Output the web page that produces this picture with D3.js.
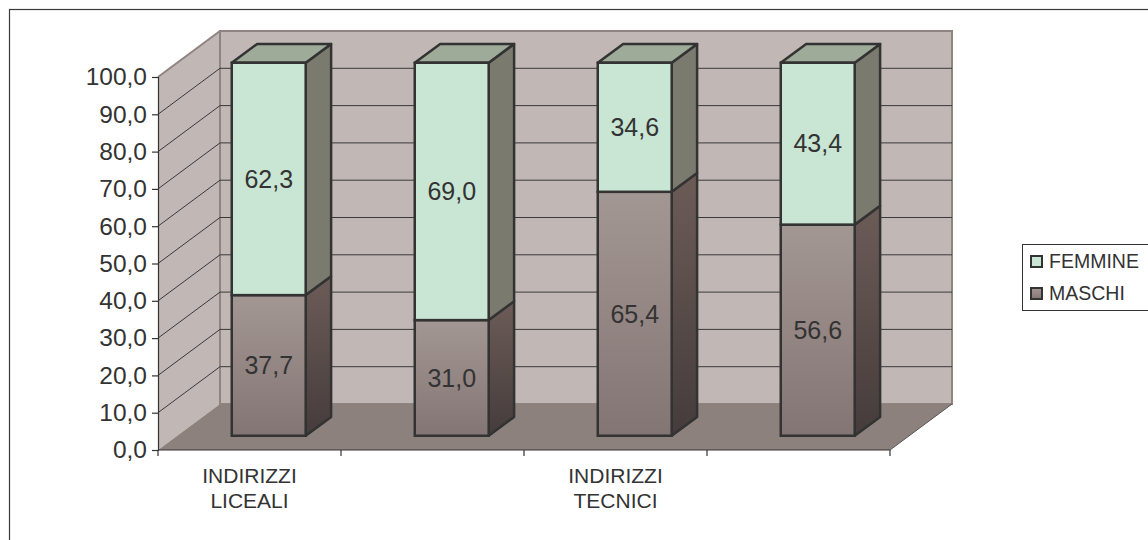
<!DOCTYPE html>
<html>
<head>
<meta charset="utf-8">
<script src="https://cdn.jsdelivr.net/npm/d3@7"></script>
<style>
html,body{margin:0;padding:0;background:#fff;}
svg{display:block;font-family:"Liberation Sans",Arial,sans-serif;}
</style>
</head>
<body>
<svg id="chart" width="1148" height="540"></svg>
<script>
// ---- data ----
const categories = ["C1", "C2", "C3", "C4"];
const categoryLabels = [["INDIRIZZI", "LICEALI"], [], ["INDIRIZZI", "TECNICI"], []];
const maschi = [37.7, 31.0, 65.4, 56.6];
const femmine = [62.3, 69.0, 34.6, 43.4];
const seriesNames = ["FEMMINE", "MASCHI"];
const yTicks = [0, 10, 20, 30, 40, 50, 60, 70, 80, 90, 100];

// ---- layout ----
const svg = d3.select("#chart");
const frontLeft = 158, frontRight = 890, frontBottom = 450, frontTop = 77;
const depth = [62, -46];
const barFront = 0.31, barBack = 0.72;

const locale = d3.formatLocale({decimal: ",", thousands: ".", grouping: [3], currency: ["", "€"]});
const fmt = locale.format(".1f");

const x = d3.scaleBand().domain(categories).range([frontLeft, frontRight])
  .paddingInner(0.596).paddingOuter(0.298);
const y = d3.scaleLinear().domain([0, 100]).range([frontBottom, frontTop]);

const defs = svg.append("defs");
const gM = defs.append("linearGradient").attr("id", "gMfront").attr("x1", 0).attr("y1", 0).attr("x2", 0).attr("y2", 1);
gM.append("stop").attr("offset", 0).attr("stop-color", "#a39794");
gM.append("stop").attr("offset", 1).attr("stop-color", "#837573");
const gMs = defs.append("linearGradient").attr("id", "gMside").attr("x1", 0).attr("y1", 0).attr("x2", 0).attr("y2", 1);
gMs.append("stop").attr("offset", 0).attr("stop-color", "#6c5c58");
gMs.append("stop").attr("offset", 1).attr("stop-color", "#453c3b");

// outer frame
svg.append("rect").attr("x", 9.5).attr("y", 9.5).attr("width", 1200).attr("height", 600)
  .attr("fill", "none").attr("stroke", "#3a3a3a").attr("stroke-width", 1.2);

const dx = depth[0], dy = depth[1];
const line = d3.line();

// walls
const wallFill = "#c1b7b4", wallEdge = "#8f8481";
svg.append("path").attr("d", line([[frontLeft, y(0)], [frontLeft, y(100)], [frontLeft + dx, y(100) + dy], [frontLeft + dx, y(0) + dy]]) + "Z")
  .attr("fill", wallFill).attr("stroke", "none");
svg.append("rect").attr("x", frontLeft + dx).attr("y", y(100) + dy)
  .attr("width", frontRight - frontLeft).attr("height", y(0) - y(100))
  .attr("fill", wallFill).attr("stroke", wallEdge).attr("stroke-width", 2);
svg.append("path").attr("d", line([[frontLeft, y(100)], [frontLeft + dx, y(100) + dy]]))
  .attr("stroke", wallEdge).attr("stroke-width", 2).attr("fill", "none");
svg.append("path").attr("d", line([[frontLeft + dx, y(100) + dy], [frontLeft + dx, y(0) + dy]]))
  .attr("stroke", wallEdge).attr("stroke-width", 1.5).attr("fill", "none");

// floor
svg.append("path").attr("d", line([[frontLeft, y(0)], [frontLeft + dx, y(0) + dy], [frontRight + dx, y(0) + dy], [frontRight, y(0)]]) + "Z")
  .attr("fill", "#8d817e").attr("stroke", "none");
svg.append("path").attr("d", line([[frontRight, y(0)], [frontRight + dx, y(0) + dy]]))
  .attr("stroke", "#555").attr("stroke-width", 1).attr("fill", "none");

// gridlines
const gridVals = yTicks.filter(v => v > 0 && v < 100);
svg.append("g").selectAll("path").data(gridVals).join("path")
  .attr("d", v => line([[frontLeft, y(v)], [frontLeft + dx, y(v) + dy], [frontRight + dx, y(v) + dy]]))
  .attr("fill", "none").attr("stroke", "#3a3a3a").attr("stroke-width", 1);

// axes
const yAxis = d3.axisLeft(y).tickValues(yTicks).tickFormat(fmt).tickSize(6).tickPadding(5);
const gy = svg.append("g").attr("transform", `translate(${frontLeft},0)`).call(yAxis);
gy.select(".domain").attr("stroke", "#333").attr("stroke-width", 1.2);
gy.selectAll(".tick line").attr("stroke", "#333").attr("stroke-width", 1.2);
gy.selectAll(".tick text").attr("font-size", 24.5).attr("fill", "#333")
  .attr("font-family", "'Liberation Sans', Arial, sans-serif");

const step = x.step();
const boundaries = d3.range(categories.length + 1).map(i => frontLeft + i * step);
const gx = svg.append("g");
gx.append("path").attr("d", line([[frontLeft, y(0)], [frontRight, y(0)]]))
  .attr("stroke", "#333").attr("stroke-width", 1.2);
gx.selectAll("line.t").data(boundaries).join("line").attr("class", "t")
  .attr("x1", d => d).attr("x2", d => d).attr("y1", y(0)).attr("y2", y(0) + 6)
  .attr("stroke", "#333").attr("stroke-width", 1.2);
categories.forEach((c, i) => {
  const cx = x(c) + x.bandwidth() / 2;
  const t = gx.append("text").attr("text-anchor", "middle").attr("font-size", 21).attr("fill", "#333");
  categoryLabels[i].forEach((ln, j) => {
    t.append("tspan").attr("x", cx).attr("y", 483 + j * 25).text(ln);
  });
});

// bars
const bars = svg.append("g");
const ox1 = barFront * dx, oy1 = barFront * dy;
const ox2 = (barBack - barFront) * dx, oy2 = (barBack - barFront) * dy;
const stroke = "#333", sw = 2.5;

categories.forEach((c, i) => {
  const x0 = x(c) + ox1, x1 = x(c) + x.bandwidth() + ox1;
  const yb = y(0) + oy1, ym = y(maschi[i]) + oy1, yt = y(maschi[i] + femmine[i]) + oy1;
  bars.append("path").attr("d", line([[x1, yb], [x1 + ox2, yb + oy2], [x1 + ox2, ym + oy2], [x1, ym]]) + "Z")
    .attr("fill", "url(#gMside)").attr("stroke", stroke).attr("stroke-width", sw).attr("stroke-linejoin", "round");
  bars.append("rect").attr("x", x0).attr("y", ym).attr("width", x1 - x0).attr("height", yb - ym)
    .attr("fill", "url(#gMfront)").attr("stroke", stroke).attr("stroke-width", sw);
  bars.append("path").attr("d", line([[x1, ym], [x1 + ox2, ym + oy2], [x1 + ox2, yt + oy2], [x1, yt]]) + "Z")
    .attr("fill", "#7a7a6f").attr("stroke", stroke).attr("stroke-width", sw).attr("stroke-linejoin", "round");
  bars.append("path").attr("d", line([[x0, yt], [x0 + ox2, yt + oy2], [x1 + ox2, yt + oy2], [x1, yt]]) + "Z")
    .attr("fill", "#9eab98").attr("stroke", stroke).attr("stroke-width", sw).attr("stroke-linejoin", "round");
  bars.append("rect").attr("x", x0).attr("y", yt).attr("width", x1 - x0).attr("height", ym - yt)
    .attr("fill", "#c9e5d4").attr("stroke", stroke).attr("stroke-width", sw);
  const cx = (x0 + x1) / 2;
  bars.append("text").attr("x", cx).attr("y", (yb + ym) / 2).attr("dy", "0.35em")
    .attr("text-anchor", "middle").attr("font-size", 25).attr("fill", "#333").text(fmt(maschi[i]));
  bars.append("text").attr("x", cx).attr("y", (ym + yt) / 2).attr("dy", "0.35em")
    .attr("text-anchor", "middle").attr("font-size", 25).attr("fill", "#333").text(fmt(femmine[i]));
});

// legend
const lg = svg.append("g");
lg.append("rect").attr("x", 1022.5).attr("y", 244.5).attr("width", 200).attr("height", 66)
  .attr("fill", "#fff").attr("stroke", "#333").attr("stroke-width", 1);
const legendFills = ["#c9e5d4", "url(#gMfront)"];
seriesNames.forEach((n, i) => {
  const yy = 256 + i * 32;
  lg.append("rect").attr("x", 1031).attr("y", yy).attr("width", 11).attr("height", 11)
    .attr("fill", legendFills[i]).attr("stroke", "#333").attr("stroke-width", 2);
  lg.append("text").attr("x", 1049).attr("y", yy + 11.5).attr("font-size", 19.5).attr("fill", "#333").text(n);
});
</script>
</body>
</html>
